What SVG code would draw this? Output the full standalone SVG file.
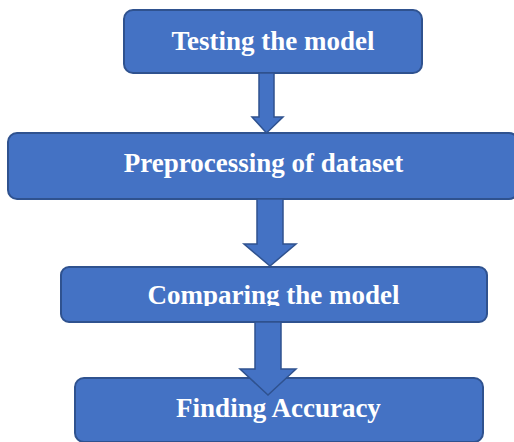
<svg xmlns="http://www.w3.org/2000/svg" width="514" height="442" viewBox="0 0 514 442">
<style>
.box{fill:#4472C4;stroke:#2F528F;stroke-width:2}
.arr{fill:#4472C4;stroke:#2F528F;stroke-width:1.5;stroke-linejoin:miter}
.t{font-family:"Liberation Serif","Times New Roman",serif;font-weight:bold;font-size:27px;fill:#fff;text-anchor:middle}
</style>
<defs>
<clipPath id="c3"><rect x="60" y="267" width="430" height="39"/></clipPath>
</defs>
<rect width="514" height="442" fill="#fff"/>
<g id="n1"><rect class="box" x="124" y="10" width="298" height="63" rx="9"/><text class="t" x="273" y="50">Testing the model</text></g>
<g id="n2"><rect class="box" x="8" y="133" width="510" height="66" rx="9"/><text class="t" x="263.5" y="172">Preprocessing of dataset</text></g>
<g id="n3"><rect class="box" x="61" y="267" width="426" height="55" rx="8"/><text class="t" x="273.5" y="304" clip-path="url(#c3)">Comparing the model</text></g>
<g id="n4"><rect class="box" x="75" y="378" width="408" height="64" rx="9"/><text class="t" x="278.5" y="417">Finding Accuracy</text></g>
<g id="connectors">
<polygon class="arr" points="259,73 274,73 274,117 283,117 266.5,133 252,117 259,117"/>
<polygon class="arr" points="257,199 283,199 283,244 296,244 270,266 244,244 257,244"/>
<polygon class="arr" points="255,322 281,322 281,369 296,369 268,395 240,369 255,369"/>
</g>
</svg>
